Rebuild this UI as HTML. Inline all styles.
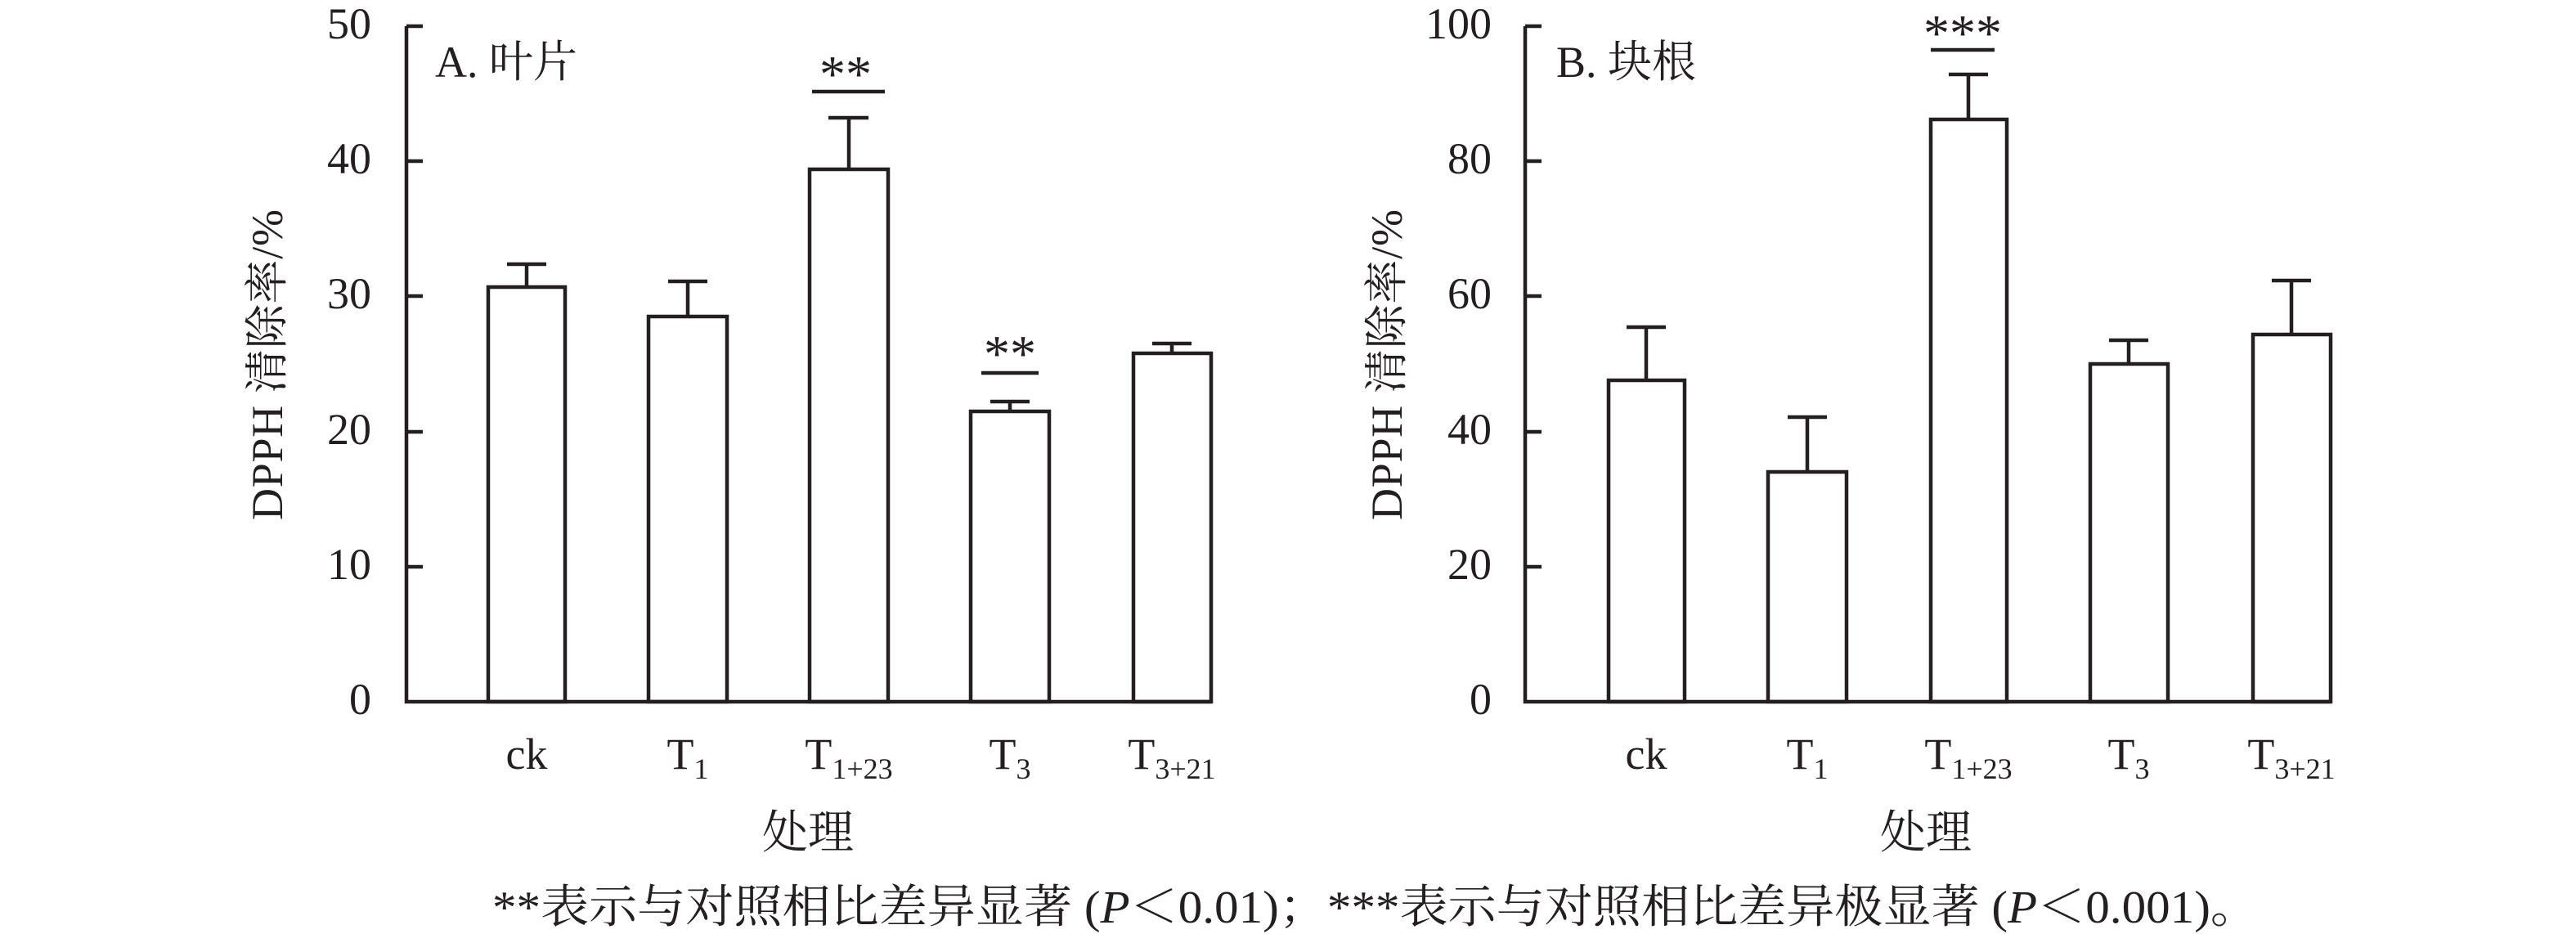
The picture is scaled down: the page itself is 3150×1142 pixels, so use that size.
<!DOCTYPE html>
<html><head><meta charset="utf-8"><style>
html,body{margin:0;padding:0;background:#fff;}
svg{display:block;}
text{font-family:"Liberation Serif","Noto Serif CJK SC",serif;fill:#231f20;}
</style></head><body>
<svg width="3150" height="1142" viewBox="0 0 3150 1142" xmlns="http://www.w3.org/2000/svg">
<g stroke="#231f20" stroke-width="4.5" fill="none">
<path d="M497 32 V858 H1481"/>
<path d="M497 32 H517 M497 197 H517 M497 362 H517 M497 528 H517 M497 693 H517"/>
<rect x="597" y="351" width="94" height="507"/>
<rect x="793" y="387" width="96" height="471"/>
<rect x="990" y="207" width="96" height="651"/>
<rect x="1187" y="503" width="96" height="355"/>
<rect x="1386" y="432" width="95" height="426"/>
<path d="M644 351 V323 M620 323 H668"/>
<path d="M841 387 V344 M817 344 H865"/>
<path d="M1038 207 V144 M1013 144 H1062"/>
<path d="M1235 503 V491 M1211 491 H1259"/>
<path d="M1433 432 V420 M1409 420 H1457"/>
<path d="M993 112 H1082"/>
<path d="M1200 456 H1270"/>
<path d="M1865 32 V858 H2850"/>
<path d="M1865 32 H1885 M1865 197 H1885 M1865 362 H1885 M1865 528 H1885 M1865 693 H1885"/>
<rect x="1967" y="465" width="93" height="393"/>
<rect x="2162" y="577" width="96" height="281"/>
<rect x="2361" y="146" width="93" height="712"/>
<rect x="2556" y="445" width="95" height="413"/>
<rect x="2755" y="409" width="95" height="449"/>
<path d="M2013 465 V400 M1989 400 H2037"/>
<path d="M2210 577 V510 M2186 510 H2234"/>
<path d="M2407 146 V91 M2383 91 H2431"/>
<path d="M2603 445 V416 M2579 416 H2627"/>
<path d="M2802 409 V343 M2778 343 H2826"/>
<path d="M2361 61 H2439"/>
</g>
<g font-size="54">
<g text-anchor="end">
<text x="454" y="47">50</text><text x="454" y="212">40</text><text x="454" y="377">30</text>
<text x="454" y="543">20</text><text x="454" y="708">10</text><text x="454" y="873">0</text>
<text x="1824" y="47">100</text><text x="1824" y="212">80</text><text x="1824" y="377">60</text>
<text x="1824" y="543">40</text><text x="1824" y="708">20</text><text x="1824" y="873">0</text>
</g>
<text x="532" y="94">A. 叶片</text>
<text x="1903" y="94">B. 块根</text>
<text transform="translate(345,446) rotate(-90)" text-anchor="middle" textLength="380">DPPH 清除率/%</text>
<text transform="translate(1714,446) rotate(-90)" text-anchor="middle" textLength="380">DPPH 清除率/%</text>
<g text-anchor="middle" font-size="54">
<text x="644" y="940">ck</text>
<text x="841" y="940">T<tspan font-size="36" dy="12">1</tspan></text>
<text x="1038" y="940">T<tspan font-size="36" dy="12">1+23</tspan></text>
<text x="1235" y="940">T<tspan font-size="36" dy="12">3</tspan></text>
<text x="1433" y="940">T<tspan font-size="36" dy="12">3+21</tspan></text>
<text x="2013" y="940">ck</text>
<text x="2210" y="940">T<tspan font-size="36" dy="12">1</tspan></text>
<text x="2407" y="940">T<tspan font-size="36" dy="12">1+23</tspan></text>
<text x="2603" y="940">T<tspan font-size="36" dy="12">3</tspan></text>
<text x="2802" y="940">T<tspan font-size="36" dy="12">3+21</tspan></text>
<text x="988" y="1037" font-size="56">处理</text>
<text x="2355" y="1037" font-size="56">处理</text>
<text x="1034" y="112" font-size="64" font-family="Liberation Sans, sans-serif">**</text>
<text x="1235" y="454" font-size="64" font-family="Liberation Sans, sans-serif">**</text>
<text x="2400" y="62" font-size="64" font-family="Liberation Sans, sans-serif">***</text>
</g>
<text x="602" y="1128" font-size="56" textLength="2160" lengthAdjust="spacingAndGlyphs">**表示与对照相比差异显著 (<tspan font-style="italic">P</tspan>＜0.01)；***表示与对照相比差异极显著 (<tspan font-style="italic">P</tspan>＜0.001)。</text>
</g>
</svg>
</body></html>
